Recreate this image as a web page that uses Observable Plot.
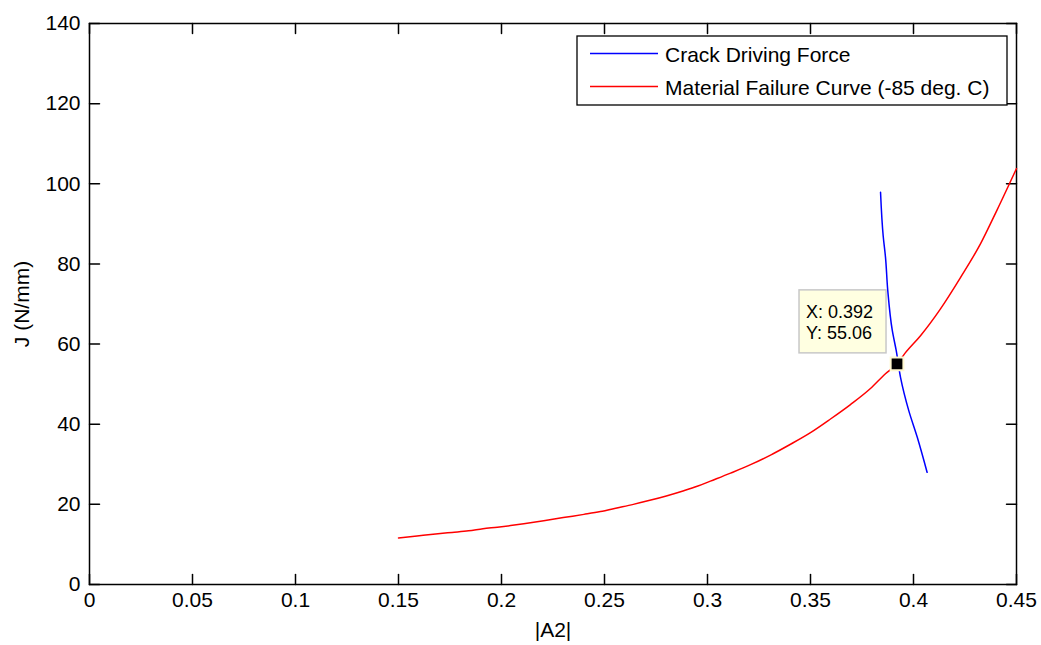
<!DOCTYPE html>
<html>
<head>
<meta charset="utf-8">
<script src="https://cdn.jsdelivr.net/npm/d3@7"></script>
<script src="https://cdn.jsdelivr.net/npm/@observablehq/plot@0.6"></script>
<style>
  html, body { margin: 0; padding: 0; background: #fff; }
  #chart { width: 1041px; height: 645px; }
</style>
</head>
<body>
<div id="chart"></div>
<script>
// ---- data ----
const failX = [0.15, 0.159, 0.168, 0.176, 0.184, 0.191, 0.198, 0.2044, 0.2108, 0.2205, 0.23, 0.24, 0.248, 0.256, 0.264, 0.272, 0.28, 0.2885, 0.295, 0.3014, 0.3112, 0.3209, 0.3306, 0.3403, 0.35, 0.3597, 0.3694, 0.3791, 0.3864, 0.392, 0.396, 0.4034, 0.4131, 0.4228, 0.4325, 0.4406, 0.45];
const failY = [11.6, 12.1, 12.6, 13.0, 13.4, 13.9, 14.3, 14.7, 15.15, 15.9, 16.7, 17.5, 18.2, 19.1, 20.0, 21.0, 22.1, 23.4, 24.5, 25.8, 27.8, 29.9, 32.3, 35.0, 37.9, 41.3, 44.9, 48.9, 52.6, 55.06, 57.8, 62.1, 68.8, 76.6, 85.0, 93.5, 103.8];
const crackX = [0.3840, 0.3853, 0.3864, 0.3875, 0.3897, 0.3916, 0.3937, 0.3977, 0.4018, 0.4066];
const crackY = [97.9, 86.9, 81.7, 73.4, 63.4, 58.4, 51.7, 43.4, 36.8, 28.0];
const seriesNames = ["Crack Driving Force", "Material Failure Curve (-85 deg. C)"];
const seriesColors = ["#0000ff", "#ff0000"];
const xTicks = [0, 0.05, 0.1, 0.15, 0.2, 0.25, 0.3, 0.35, 0.4, 0.45];
const xTickLabels = ["0", "0.05", "0.1", "0.15", "0.2", "0.25", "0.3", "0.35", "0.4", "0.45"];
const yTicks = [0, 20, 40, 60, 80, 100, 120, 140];
const yTickLabels = ["0", "20", "40", "60", "80", "100", "120", "140"];
const tipPoint = {x: 0.392, y: 55.06};
const tipLines = ["X: 0.392", "Y: 55.06"];
const xLabel = "|A2|";
const yLabel = "J (N/mm)";

const fail = failX.map((x, i) => ({x, y: failY[i]}));
const crack = crackX.map((x, i) => ({x, y: crackY[i]}));

const FONT = "Arial, 'Liberation Sans', Helvetica, sans-serif";

function tipMark(index, scales) {
  const px = scales.x(tipPoint.x), py = scales.y(tipPoint.y);
  const w = 87, h = 63, off = 10.5;
  const g = d3.create("svg:g");
  const left = px - off - w, top = py - off - h;
  g.append("rect").attr("x", left).attr("y", top).attr("width", w).attr("height", h)
    .attr("fill", "#ffffe1").attr("stroke", "#c8c8c8").attr("stroke-width", 1.5);
  tipLines.forEach((t, i) => {
    g.append("text").attr("x", left + 7).attr("y", top + 21.5 + i * 21.5).attr("dy", "0.35em")
      .attr("text-anchor", "start")
      .attr("font-family", FONT).attr("font-size", 18).attr("fill", "#000").text(t);
  });
  return g.node();
}

function legendMark(index, scales, values, dims) {
  const right = dims.width - dims.marginRight - 9;
  const top = dims.marginTop + 13;
  const w = 430, h = 69;
  const left = right - w;
  const g = d3.create("svg:g");
  g.append("rect").attr("x", left).attr("y", top).attr("width", w).attr("height", h)
    .attr("fill", "#fff").attr("stroke", "#000").attr("stroke-width", 1.3);
  seriesNames.forEach((name, i) => {
    const cy = top + 17.5 + i * 33;
    g.append("line").attr("x1", left + 13).attr("x2", left + 81).attr("y1", cy).attr("y2", cy)
      .attr("stroke", seriesColors[i]).attr("stroke-width", 1.5);
    g.append("text").attr("x", left + 88).attr("y", cy + 1).attr("dy", "0.35em")
      .attr("text-anchor", "start")
      .attr("font-family", FONT).attr("font-size", 21).attr("fill", "#000").text(name);
  });
  return g.node();
}

// inward tick marks drawn as vectors with a plain line shape
const tickShape = {draw(context, l) { context.moveTo(0, 0); context.lineTo(0, -l); }};
const tickOpts = {anchor: "start", length: 10, shape: tickShape, stroke: "#000", strokeWidth: 1.5};

const chart = Plot.plot({
  width: 1041,
  height: 645,
  marginLeft: 89,
  marginRight: 25,
  marginTop: 23,
  marginBottom: 61,
  style: {fontFamily: FONT, fontSize: "21px", color: "#000", background: "#fff"},
  x: {domain: [0, 0.45]},
  y: {domain: [0, 140]},
  marks: [
    Plot.frame({stroke: "#000", strokeWidth: 1.5}),
    Plot.axisX(xTicks, {anchor: "bottom", tickSize: 0, tickPadding: 8, tickFormat: (d, i) => xTickLabels[i], fontSize: 21, label: null}),
    Plot.axisY(yTicks, {anchor: "left", tickSize: 0, tickPadding: 9, tickFormat: (d, i) => yTickLabels[i], fontSize: 21, label: null}),
    Plot.vector(xTicks, {x: d => d, frameAnchor: "bottom", rotate: 0, ...tickOpts}),
    Plot.vector(xTicks, {x: d => d, frameAnchor: "top", rotate: 180, ...tickOpts}),
    Plot.vector(yTicks, {y: d => d, frameAnchor: "left", rotate: 90, ...tickOpts}),
    Plot.vector(yTicks, {y: d => d, frameAnchor: "right", rotate: -90, ...tickOpts}),
    Plot.text([xLabel], {frameAnchor: "bottom", dy: 46, lineAnchor: "middle", textAnchor: "middle", text: d => d, fontSize: 21, fill: "#000"}),
    Plot.text([yLabel], {frameAnchor: "left", dx: -67, rotate: -90, lineAnchor: "middle", textAnchor: "middle", text: d => d, fontSize: 21, fill: "#000"}),
    Plot.line(crack, {x: "x", y: "y", stroke: seriesColors[0], strokeWidth: 1.5, curve: "monotone-y"}),
    Plot.line(fail, {x: "x", y: "y", stroke: seriesColors[1], strokeWidth: 1.5, curve: "monotone-x"}),
    tipMark,
    Plot.dot([tipPoint], {x: "x", y: "y", symbol: "square", r: 7.2, fill: "#000", stroke: "#fff8d0", strokeWidth: 2}),
    legendMark
  ]
});
document.getElementById("chart").appendChild(chart);
</script>
</body>
</html>
